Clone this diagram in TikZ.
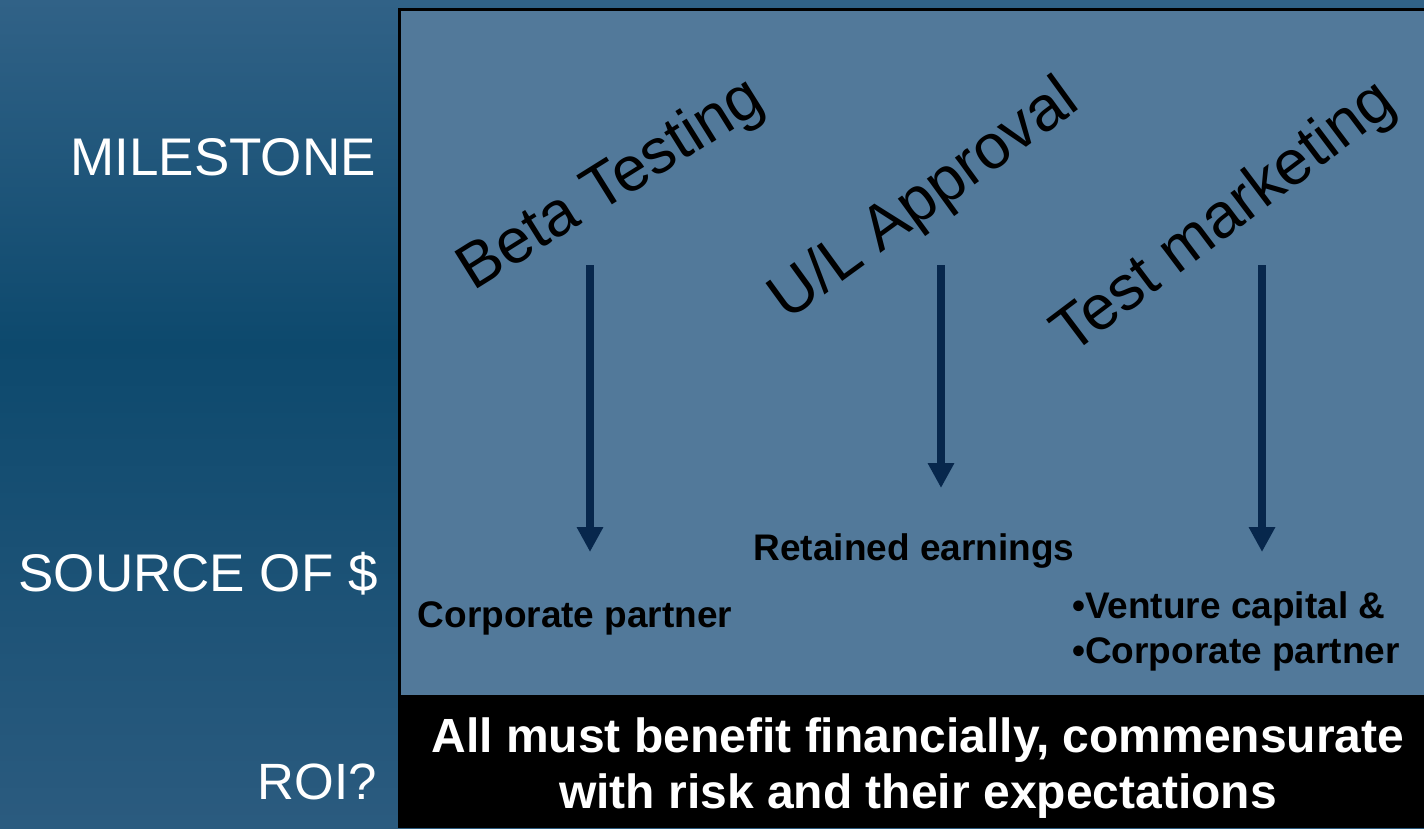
\documentclass[tikz,border=0pt]{standalone}
\usepackage{fontspec}
\setmainfont{Liberation Sans}
\usetikzlibrary{arrows.meta}
\definecolor{bgtop}{HTML}{316287}
\definecolor{bgdark}{HTML}{0D496D}
\definecolor{bgbot}{HTML}{2B5B7F}
\definecolor{panel}{HTML}{52799A}
\definecolor{arrowc}{HTML}{07274C}
\begin{document}
\begin{tikzpicture}[x=1pt,y=-1pt,
  rowlabel/.style={anchor=east, text=white, font=\fontsize{53}{63}\selectfont, inner sep=0pt},
  milestone/.style={text=black, font=\fontsize{63}{75}\selectfont, inner sep=0pt},
  source/.style={text=black, font=\bfseries\fontsize{37}{45}\selectfont, inner sep=0pt},
  flow/.style={draw=arrowc, line width=8pt, -{Triangle[width=25pt,length=25pt]}}
]
\useasboundingbox (0,0) rectangle (1424,828);
% background
\shade[top color=bgtop, bottom color=bgdark] (0,0) rectangle (1424,345);
\shade[top color=bgdark, bottom color=bgbot] (0,345) rectangle (1424,828);
% panel and bottom band
\draw[fill=panel, draw=black, line width=3pt] (399,9.5) rectangle (1440,696);
\fill[black] (397.5,696) rectangle (1424,828);

% row labels
\node[rowlabel] (lmile) at (376,157) {MILESTONE};
\node[rowlabel] (lsrc) at (378,574) {SOURCE OF \$};
\node[rowlabel, font=\fontsize{51}{61}\selectfont] (lroi) at (377,782) {ROI?};

% milestones
\node[milestone, rotate=32] (m1) at (612,186) {Beta Testing};
\node[milestone, rotate=36] (m2) at (925,201) {U/L Approval};
\node[milestone, rotate=37] (m3) at (1225,219) {Test marketing};

% sources
\node[source] (s2) at (914,551) {Retained earnings};
\node[source] (s1) at (575,618) {Corporate partner};
\node[source, anchor=west, align=left] (s3) at (1072,631)
  {\textbullet Venture capital \&\\[0em]\textbullet Corporate partner};

% arrows
\coordinate (a1s) at (590,265);
\coordinate (a1e) at (590,552);
\coordinate (a2s) at (941,265);
\coordinate (a2e) at (941,488);
\coordinate (a3s) at (1262,265);
\coordinate (a3e) at (1262,552);
\draw[flow] (a1s) -- (a1e);
\draw[flow] (a2s) -- (a2e);
\draw[flow] (a3s) -- (a3e);

% ROI statement
\node[text=white, font=\bfseries\fontsize{48}{56}\selectfont, align=center, inner sep=0pt] (roi) at (918,768)
  {All must benefit financially, commensurate\\with risk and their expectations};
\end{tikzpicture}
\end{document}
